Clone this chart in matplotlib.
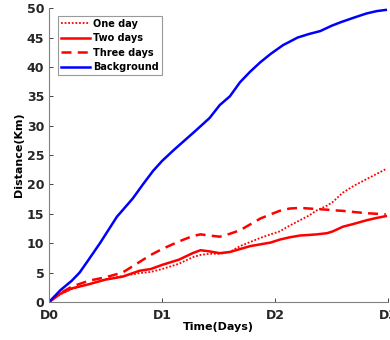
import matplotlib
matplotlib.use("Agg")
import matplotlib.pyplot as plt

# time in days
t_bg = [0, 0.1, 0.2, 0.27, 0.35, 0.45, 0.6, 0.74, 0.83, 0.92, 1.0, 1.1, 1.2, 1.3, 1.42,
        1.51, 1.6, 1.69, 1.78, 1.87, 1.96, 2.07, 2.2, 2.3, 2.4, 2.5, 2.58, 2.7, 2.81, 2.9, 2.98]
background = [0, 2.0, 3.6, 5.0, 7.2, 10.0, 14.5, 17.6, 20.0, 22.3, 24.0, 25.8, 27.5, 29.2, 31.3,
              33.5, 35.0, 37.4, 39.2, 40.8, 42.2, 43.7, 45.0, 45.6, 46.1, 47.0, 47.6, 48.4, 49.1, 49.5, 49.7]

t_red = [0, 0.1, 0.2, 0.35, 0.5, 0.65, 0.8, 0.9, 1.0, 1.15, 1.27, 1.34, 1.42, 1.51, 1.6, 1.69,
         1.78, 1.87, 1.96, 2.04, 2.13, 2.22, 2.3, 2.37, 2.46, 2.51, 2.6, 2.7, 2.81, 2.9, 2.98]
one_day = [0, 1.3, 2.2, 3.0, 3.9, 4.4, 4.9, 5.1, 5.6, 6.5, 7.6, 8.0, 8.2, 8.2, 8.5, 9.5,
           10.2, 10.9, 11.5, 12.0, 13.0, 13.9, 14.7, 15.6, 16.4, 17.0, 18.6, 19.8, 20.9, 21.8, 22.6]
two_days = [0, 1.4, 2.3, 3.0, 3.8, 4.3, 5.3, 5.6, 6.3, 7.2, 8.3, 8.8, 8.6, 8.3, 8.5, 9.0,
            9.5, 9.8, 10.1, 10.6, 11.0, 11.3, 11.4, 11.5, 11.7, 12.0, 12.8, 13.3, 13.9, 14.3, 14.6]
three_days = [0, 1.5, 2.6, 3.6, 4.2, 5.0, 6.8, 8.0, 9.0, 10.3, 11.2, 11.5, 11.3, 11.1, 11.6, 12.2,
              13.2, 14.2, 14.9, 15.5, 15.9, 16.0, 15.9, 15.8, 15.7, 15.6, 15.5, 15.3, 15.1, 15.0, 14.9]

xticks = [0, 1, 2, 3]
xlabels = ["D0", "D1", "D2", "D3"]
yticks = [0, 5, 10, 15, 20, 25, 30, 35, 40, 45, 50]

plt.rcParams['font.family'] = ['DejaVu Sans']
plt.rcParams['font.weight'] = 'bold'

fig = plt.figure(figsize=(3.9, 3.4), dpi=100)
ax = fig.add_axes([0.126, 0.112, 0.869, 0.864])

ax.plot(t_red, one_day, color='red', linestyle=(0, (1, 1)), linewidth=1.3, label='One day')
ax.plot(t_red, two_days, color='red', linestyle='-', linewidth=1.8, label='Two days')
ax.plot(t_red, three_days, color='red', linestyle=(0, (4, 2.5)), linewidth=1.8, label='Three days')
ax.plot(t_bg, background, color='blue', linestyle='-', linewidth=1.8, label='Background')

ax.set_xlim(0, 3)
ax.set_ylim(0, 50)
ax.set_xticks(xticks)
ax.set_xticklabels(xlabels)
ax.set_yticks(yticks)
ax.tick_params(direction='in', labelsize=9, colors='#262626', length=3, width=0.6)
ax.tick_params(axis='x', pad=5)
for lab in ax.get_xticklabels() + ax.get_yticklabels():
    lab.set_fontweight('bold')

for s in ['top', 'right']:
    ax.spines[s].set_visible(False)
for s in ['left', 'bottom']:
    ax.spines[s].set_color('#808080')
    ax.spines[s].set_linewidth(0.8)

ax.set_xlabel("Time(Days)", fontsize=8, fontweight='bold', labelpad=0)
ax.set_ylabel("Distance(Km)", fontsize=8, fontweight='bold', labelpad=2)

leg = ax.legend(loc='upper left', bbox_to_anchor=(0.02, 0.98), fontsize=7, fancybox=False,
                handlelength=3.0, borderpad=0.3, labelspacing=0.45, handletextpad=0.35,
                borderaxespad=0.2)
leg.get_frame().set_edgecolor('#808080')
leg.get_frame().set_linewidth(0.8)
for txt in leg.get_texts():
    txt.set_fontweight('bold')

plt.savefig("out.png", dpi=100)
plt.close()
